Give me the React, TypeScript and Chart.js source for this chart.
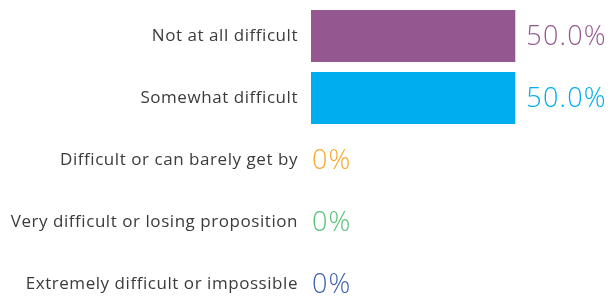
import React, { useEffect, useRef } from "react";
import { Chart, registerables } from "chart.js";

Chart.register(...registerables);

const categories = [
  "Not at all difficult",
  "Somewhat difficult",
  "Difficult or can barely get by",
  "Very difficult or losing proposition",
  "Extremely difficult or impossible",
];
const values = [50, 50, 0, 0, 0];
const valueLabels = ["50.0%", "50.0%", "0%", "0%", "0%"];
const colors = ["#95578f", "#00adee", "#f7a829", "#56c176", "#3d5fad"];

const spacingPlugin = {
  id: "spacing",
  beforeDraw(chart: any) {
    chart.ctx.letterSpacing = "0.55px";
  },
};

const valueLabelPlugin = {
  id: "valueLabels",
  afterDatasetsDraw(chart: any) {
    const ctx = chart.ctx;
    const meta = chart.getDatasetMeta(0);
    ctx.save();
    ctx.letterSpacing = "1.2px";
    ctx.font = "300 27px 'Open Sans'";
    ctx.textBaseline = "middle";
    ctx.textAlign = "left";
    meta.data.forEach((el: any, i: number) => {
      const gap = values[i] > 0 ? 11 : 1;
      ctx.fillStyle = colors[i];
      ctx.fillText(valueLabels[i], el.x + gap, el.y + 1);
    });
    ctx.restore();
  },
};

export default function App() {
  const ref = useRef<HTMLCanvasElement>(null);
  useEffect(() => {
    if (!ref.current) return;
    const chart = new Chart(ref.current, {
      type: "bar",
      data: {
        labels: categories,
        datasets: [
          {
            data: values,
            backgroundColor: colors,
            borderWidth: 0,
            categoryPercentage: 1,
            barPercentage: 0.84,
          },
        ],
      },
      options: {
        indexAxis: "y",
        responsive: false,
        maintainAspectRatio: false,
        animation: false,
        layout: { padding: { top: 5, bottom: 5, right: 13, left: 0 } },
        plugins: { legend: { display: false }, tooltip: { enabled: false } },
        scales: {
          x: { display: false, min: 0, max: 70 },
          y: {
            grid: { display: false, drawTicks: false },
            border: { display: false },
            afterFit: (scale: any) => {
              scale.width = 311;
              scale.paddingTop = 0;
              scale.paddingBottom = 0;
            },
            ticks: {
              padding: 13,
              color: "#3b3b3b",
              font: { family: "'Open Sans'", size: 17, weight: "500" },
            },
          },
        },
      },
      plugins: [spacingPlugin, valueLabelPlugin],
    });
    return () => chart.destroy();
  }, []);
  return (
    <div
      style={{
        position: "fixed",
        left: 0,
        top: 0,
        width: 610,
        height: 299,
        overflow: "hidden",
        background: "#fff",
      }}
    >
      <canvas
        ref={ref}
        width={610}
        height={320}
        style={{ width: 610, height: 320, display: "block" }}
      />
    </div>
  );
}
